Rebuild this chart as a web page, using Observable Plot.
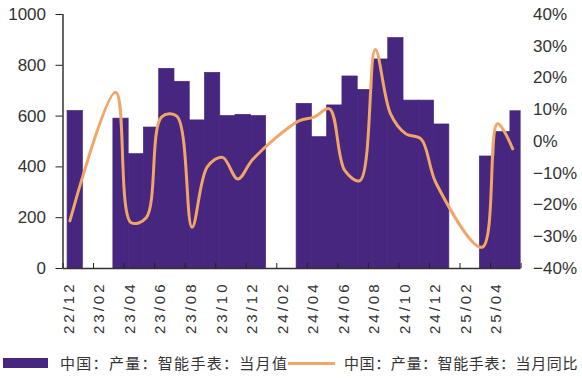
<!DOCTYPE html>
<html>
<head>
<meta charset="utf-8">
<script src="https://cdn.jsdelivr.net/npm/d3@7"></script>
<script src="https://cdn.jsdelivr.net/npm/@observablehq/plot@0.6"></script>
<style>
  html, body { margin: 0; padding: 0; background: #fff; width: 582px; height: 378px; overflow: hidden; }
  #chart { position: relative; width: 582px; height: 378px; }
  #chart svg { display: block; }
  g[aria-label="x-axis tick label"] text { letter-spacing: 3px; }
  .legend { position: absolute; top: 352px; left: 0; width: 582px; height: 22px; white-space: nowrap; font-family: "Noto Sans CJK SC", sans-serif; font-size: 15px; letter-spacing: 1.3px; color: #333; }
  .legend .sw-bar { position: absolute; left: 3px; top: 6px; width: 45px; height: 10px; background: #46267f; }
  .legend .t1 { position: absolute; left: 60px; top: 0; line-height: 22px; }
  .legend .sw-line { position: absolute; left: 288px; top: 9.5px; width: 47px; height: 3px; background: #f1a566; }
  .legend .t2 { position: absolute; left: 344px; top: 0; line-height: 22px; letter-spacing: 0.6px; }
</style>
</head>
<body>
<div id="chart"></div>
<script>
// ---- data ----
const allMonths = ["22/12","23/01","23/02","23/03","23/04","23/05","23/06","23/07","23/08","23/09","23/10","23/11","23/12",
  "24/01","24/02","24/03","24/04","24/05","24/06","24/07","24/08","24/09","24/10","24/11","24/12",
  "25/01","25/02","25/03","25/04","25/05","25/06"];
const tickLabels = ["22/12","23/02","23/04","23/06","23/08","23/10","23/12","24/02","24/04","24/06","24/08","24/10","24/12","25/02","25/04"];
const dataMonths = ["22/12","23/03","23/04","23/05","23/06","23/07","23/08","23/09","23/10","23/11","23/12",
  "24/03","24/04","24/05","24/06","24/07","24/08","24/09","24/10","24/11","24/12","25/03","25/04","25/05"];
const monthlyOutput = [620,590,450,555,786,735,583,770,600,605,600,648,517,642,756,703,823,907,661,661,567,441,537,619];
const yoyPct = [-25,15.5,-25.5,-24,7.7,8,-27,-8,-5,-11.8,-5.5,6.5,7.7,10.3,-9.1,-12.3,29,8.7,2.4,0.8,-13.3,-33.3,5.6,-2.3];
const leftTicks = [0,200,400,600,800,1000];
const pctTicks = [-40,-30,-20,-10,0,10,20,30,40];
const legendLabels = ["中国：产量：智能手表：当月值", "中国：产量：智能手表：当月同比"];

// ---- helpers ----
const idx = m => allMonths.indexOf(m);
const pctToLeft = d3.scaleLinear().domain([-40, 40]).range([0, 1000]);
const rows = dataMonths.map((m, k) => ({m, i: idx(m), v: monthlyOutput[k], p: yoyPct[k]}));

const W = 582, H = 345;
const plot = Plot.plot({
  width: W,
  height: H,
  marginLeft: 62.5,
  marginRight: 61.4,
  marginTop: 14,
  marginBottom: H - 268,
  style: {fontFamily: "'Liberation Sans', Arial, sans-serif", color: "#333", background: "#fff"},
  x: {type: "linear", domain: [0, 30]},
  y: {domain: [0, 1000]},
  marks: [
    Plot.rect(rows, {x1: d => d.i + 0.3, x2: d => d.i + 1.3, y1: 0, y2: "v", fill: "#46267f", stroke: "#46267f", strokeWidth: 0.7, clip: true}),
    Plot.line(rows, {x: d => d.i + 0.45, y: d => pctToLeft(d.p), stroke: "#f1a566", strokeWidth: 3, curve: "catmull-rom"}),
    Plot.ruleY([0], {stroke: "#333", strokeWidth: 1.5}),
    Plot.ruleX([0], {y1: 0, y2: 1000, stroke: "#333", strokeWidth: 1.5}),
    Plot.axisY({anchor: "left", ticks: leftTicks, tickSize: 7, tickPadding: 10, fontSize: 17, label: null, stroke: "#222",
      tickFormat: v => String(v)}),
    Plot.axisY({anchor: "right", ticks: pctTicks.map(pctToLeft), tickSize: 0, tickPadding: 12, fontSize: 17, label: null,
      tickFormat: v => { const p = Math.round(pctToLeft.invert(v)); return (p < 0 ? "\u2212" : "") + Math.abs(p) + "%"; }}),
    Plot.axisX({anchor: "bottom", ticks: d3.range(0, 31, 2), tickSize: -5, tickFormat: () => "", label: null, stroke: "#222"}),
    Plot.axisX({anchor: "bottom", ticks: tickLabels.map(idx), tickSize: 0, tickPadding: 0, dx: 6, dy: 13, tickRotate: -90, fontSize: 15, label: null,
      tickFormat: v => allMonths[v]})
  ]
});
const chart = document.getElementById("chart");
chart.appendChild(plot);
const lg = document.createElement("div");
lg.className = "legend";
lg.innerHTML = `<span class="sw-bar"></span><span class="t1">${legendLabels[0]}</span><span class="sw-line"></span><span class="t2">${legendLabels[1]}</span>`;
chart.appendChild(lg);
</script>
</body>
</html>
